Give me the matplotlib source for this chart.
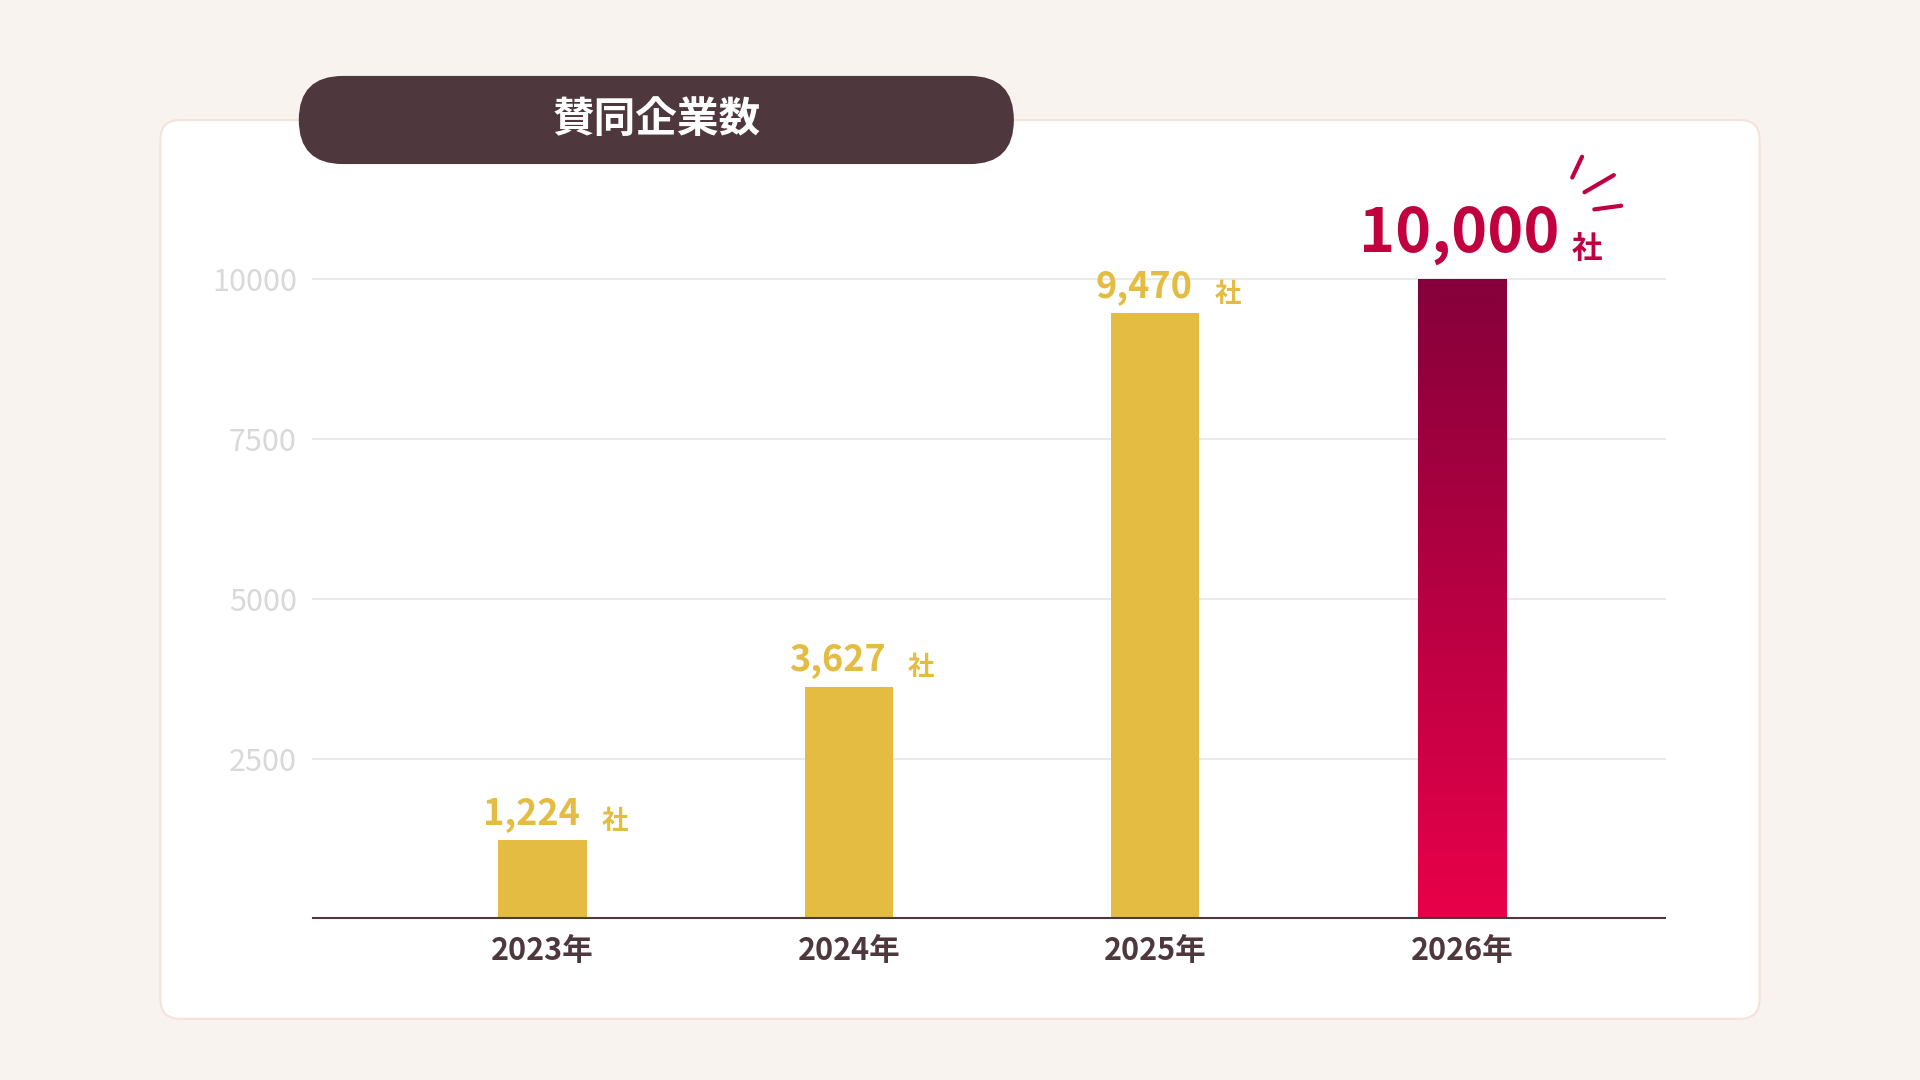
import matplotlib.pyplot as plt
from matplotlib.patches import FancyBboxPatch
from matplotlib.colors import LinearSegmentedColormap
import numpy as np

plt.rcParams['font.family'] = ['Noto Sans CJK JP', 'DejaVu Sans']

# データ
years = ["2023", "2024", "2025", "2026"]
counts = [1224, 3627, 9470, 10000]
labels = ["1,224", "3,627", "9,470", "10,000"]

W, H = 1568, 882
fig = plt.figure(figsize=(19.2, 10.8), dpi=100)
fig.patch.set_facecolor("#F8F3EE")

# 背景用の軸（ピクセル座標）
bg = fig.add_axes([0, 0, 1, 1], zorder=0)
bg.set_xlim(0, W)
bg.set_ylim(H, 0)
bg.axis("off")

# 白いカード
bg.add_patch(FancyBboxPatch((131, 98), 1437 - 131, 832 - 98,
                            boxstyle="round,pad=0,rounding_size=16",
                            facecolor="white", edgecolor="#F3E3DA", linewidth=1.5))
# タイトルの帯
bg.add_patch(FancyBboxPatch((244, 62), 828 - 244, 134 - 62,
                            boxstyle="round,pad=0,rounding_size=36",
                            facecolor="#4E383D", edgecolor="none"))
bg.text(536, 98, "賛同企業数", color="white", fontsize=30, fontweight="bold",
        ha="center", va="center")
# きらきら線
for (x0, y0, x1, y1) in [(1284, 145, 1292, 128), (1294, 157, 1318, 143), (1302, 171, 1324, 168)]:
    bg.plot([x0, x1], [y0, y1], color="#C0003F", linewidth=3, solid_capstyle="round")

ax = fig.add_axes([256 / W, (H - 750) / H, (1360 - 256) / W, (750 - 228) / H], zorder=1)
ax.set_facecolor("none")
x = np.arange(len(years))
width = 0.288

for yv in [2500, 5000, 7500, 10000]:
    ax.axhline(yv, color="#E6E6E6", linewidth=1.2, zorder=0, clip_on=False)

ax.bar(x[:3], counts[:3], width=width, color="#E4BC42", zorder=2)

# 2026年はグラデーション
grad = np.linspace(0, 1, 256).reshape(-1, 1)
cmap = LinearSegmentedColormap.from_list("g", ["#E8004A", "#85003A"])
ax.imshow(grad, cmap=cmap, origin="lower", aspect="auto", zorder=2,
          extent=(x[3] - width / 2, x[3] + width / 2, 0, counts[3]))
ax.set_xlim(-0.747, 3.664)
ax.set_ylim(0, 10000)

for i in range(3):
    ax.annotate(labels[i], (x[i], counts[i]), xytext=(-8, 6), textcoords="offset points",
                ha="center", va="bottom", color="#E4BC42", fontsize=26, fontweight="bold",
                annotation_clip=False)
    ax.annotate("社", (x[i], counts[i]), xytext=(52, 4), textcoords="offset points",
                ha="center", va="bottom", color="#E4BC42", fontsize=19, fontweight="bold",
                annotation_clip=False)
ax.annotate(labels[3], (x[3], counts[3]), xytext=(-2, 10), textcoords="offset points",
            ha="center", va="bottom", color="#C0003F", fontsize=44, fontweight="bold",
            annotation_clip=False)
ax.annotate("社", (x[3], counts[3]), xytext=(90, 10), textcoords="offset points",
            ha="center", va="bottom", color="#C0003F", fontsize=22, fontweight="bold",
            annotation_clip=False)

ax.set_yticks([2500, 5000, 7500, 10000])
ax.set_yticklabels(["2500", "5000", "7500", "10000"], color="#D9D9D9", fontsize=22)
ax.set_xticks(x)
ax.set_xticklabels([y + "年" for y in years], color="#4E383D", fontsize=22, fontweight="bold")
ax.tick_params(length=0, pad=12)
for s in ["top", "right", "left"]:
    ax.spines[s].set_visible(False)
ax.spines["bottom"].set_color("#4E383D")
ax.spines["bottom"].set_linewidth(1.5)

fig.savefig("out.png", facecolor=fig.get_facecolor())
plt.close()
